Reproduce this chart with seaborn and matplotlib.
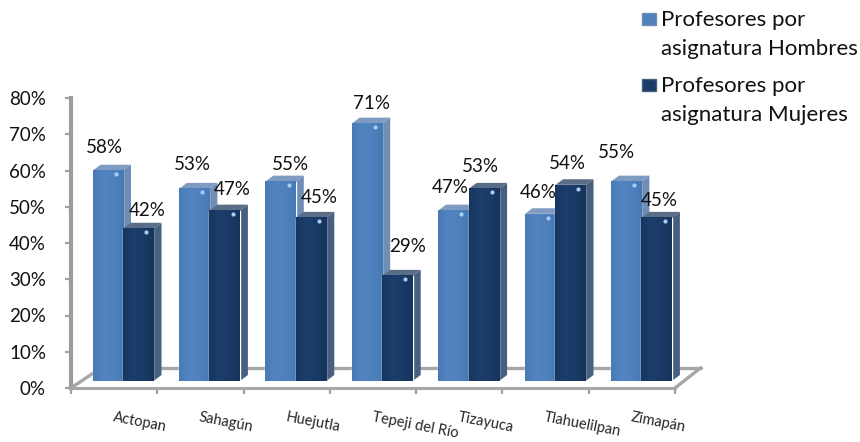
import matplotlib
matplotlib.use('Agg')
import matplotlib.pyplot as plt
from matplotlib.colors import LinearSegmentedColormap
from matplotlib.patches import Polygon, Rectangle
import numpy as np
import pandas as pd
import seaborn as sns

SEDES = ['Actopan', 'Sahagún', 'Huejutla', 'Tepeji del Río', 'Tizayuca', 'Tlahuelilpan', 'Zimapán']
HOMBRES = [58, 53, 55, 71, 47, 46, 55]
MUJERES = [42, 47, 45, 29, 53, 54, 45]
SERIE_H = 'Profesores por\nasignatura Hombres'
SERIE_M = 'Profesores por\nasignatura Mujeres'
Y_TICKS = [0, 10, 20, 30, 40, 50, 60, 70, 80]

# hand placed label offsets in px from the top centre of each bar
OFFSET_H = [(-3, 23), (-2, 24), (10, 17), (5, 20), (-3, 23), (-2, 22), (-10, 29)]
OFFSET_M = [(9, 18), (8, 21), (8, 20), (10, 29), (-3, 22), (-3, 22), (3, 17)]

W, H = 860, 442
PX_PER_PCT = 3.625
CAT_W = 86.4
DX, DY = 8 / CAT_W, 6 / PX_PER_PCT

STYLES = {
    SERIE_H: dict(ramp=['#4a7ab6', '#5284c2', '#4f81bd', '#467ab5'], side='#6f8db5', top='#7f9bc2'),
    SERIE_M: dict(ramp=['#17365f', '#1c3e6c', '#1a3a67', '#16335a'], side='#47607f', top='#5a6d87'),
}

sns.set_theme(style='white')
plt.rcParams['font.family'] = ['Lato', 'DejaVu Sans']


def px_rect(left, right, bottom, top):
    return [left / W, 1 - bottom / H, (right - left) / W, (bottom - top) / H]


df = pd.DataFrame({
    'sede': SEDES * 2,
    'pct': HOMBRES + MUJERES,
    'serie': [SERIE_H] * len(SEDES) + [SERIE_M] * len(SEDES),
})

fig = plt.figure(figsize=(W / 100, H / 100), dpi=100, facecolor='white')

# axis frame, front edge of the 3D floor
frame = fig.add_axes(px_rect(71, 675, 388, 98))
frame.set_xlim(0, 7)
frame.set_ylim(0, 80)
frame.set_yticks(Y_TICKS, [f'{t}%' for t in Y_TICKS], fontsize=13.5, color='#111111')
frame.set_xticks(range(8), [''] * 8)
frame.tick_params(axis='both', length=4, width=1.6, color='#a0a0a0', left=True, bottom=True)
frame.tick_params(axis='y', pad=14)
sns.despine(ax=frame)
frame.spines['left'].set_color('#9c9c9c')
frame.spines['left'].set_linewidth(3)
frame.spines['bottom'].set_color('#a6a6a6')
frame.spines['bottom'].set_linewidth(2.2)
for xs, ys in [([0, .35], [0, 5.6]), ([.35, 7.3], [5.6, 5.6]), ([7.3, 7], [5.6, 0])]:
    frame.plot(xs, ys, color='#a6a6a6', lw=2.4, clip_on=False, solid_capstyle='round')
# the names start a fixed distance from each tick, so long ones run further right
for i, sede in enumerate(SEDES):
    frame.annotate(sede, xy=(i, 0), xytext=(42, -29), textcoords='offset pixels',
                   rotation=-11, rotation_mode='anchor', fontsize=10.5, ha='left', va='center',
                   annotation_clip=False)

# bars, shifted back from the frame
ax = fig.add_axes(px_rect(79.8, 684.6, 381, 91), facecolor='none')
sns.barplot(data=df, x='sede', y='pct', hue='serie', order=SEDES,
            palette={s: STYLES[s]['ramp'][2] for s in STYLES},
            width=0.706, gap=0, saturation=1, legend=False, ax=ax)

grad = np.linspace(0, 1, 64).reshape(1, -1)
for z, (container, serie, offsets) in enumerate(zip(ax.containers, [SERIE_H, SERIE_M], [OFFSET_H, OFFSET_M])):
    style = STYLES[serie]
    cmap = LinearSegmentedColormap.from_list(serie, style['ramp'])
    for bar, (ox, oy) in zip(container, offsets):
        x0, x1, h = bar.get_x(), bar.get_x() + bar.get_width(), bar.get_height()
        bar.set_zorder(3 + 2 * z)
        ax.imshow(grad, cmap=cmap, extent=(x0, x1, 0, h), aspect='auto', zorder=3.5 + 2 * z)
        ax.add_patch(Polygon([(x1, 0), (x1 + DX, DY), (x1 + DX, h + DY), (x1, h)],
                             facecolor=style['side'], edgecolor='none', zorder=2 + 2 * z))
        ax.add_patch(Polygon([(x0, h), (x0 + DX, h + DY), (x1 + DX, h + DY), (x1, h)],
                             facecolor=style['top'], edgecolor='none', zorder=2 + 2 * z))
        ax.plot(x1 - DX * .9, h - DY * .6, 'o', ms=3, color='#a9cdf2', mec='none', zorder=4 + 2 * z)
        ax.annotate(f'{h:.0f}%', xy=((x0 + x1) / 2, h), xytext=(ox, oy), textcoords='offset pixels',
                    ha='center', va='center', fontsize=13.5, color='#111111', zorder=10)

ax.set_xlim(-.5, 6.5)
ax.set_ylim(0, 80)
ax.axis('off')

# legend keys sit on the first text line, which fig.legend will not do
for serie, y in zip([SERIE_H, SERIE_M], [19, 85]):
    fig.add_artist(Rectangle((642 / W, 1 - (y + 6) / H), 14 / W, 12 / H, transform=fig.transFigure,
                             facecolor=STYLES[serie]['ramp'][2], edgecolor=STYLES[serie]['side'], lw=1))
    fig.text(661 / W, 1 - (y - 9) / H, serie, fontsize=16, linespacing=1.55, va='top', ha='left',
             color='#111111')

fig.savefig('out.png', dpi=100)
